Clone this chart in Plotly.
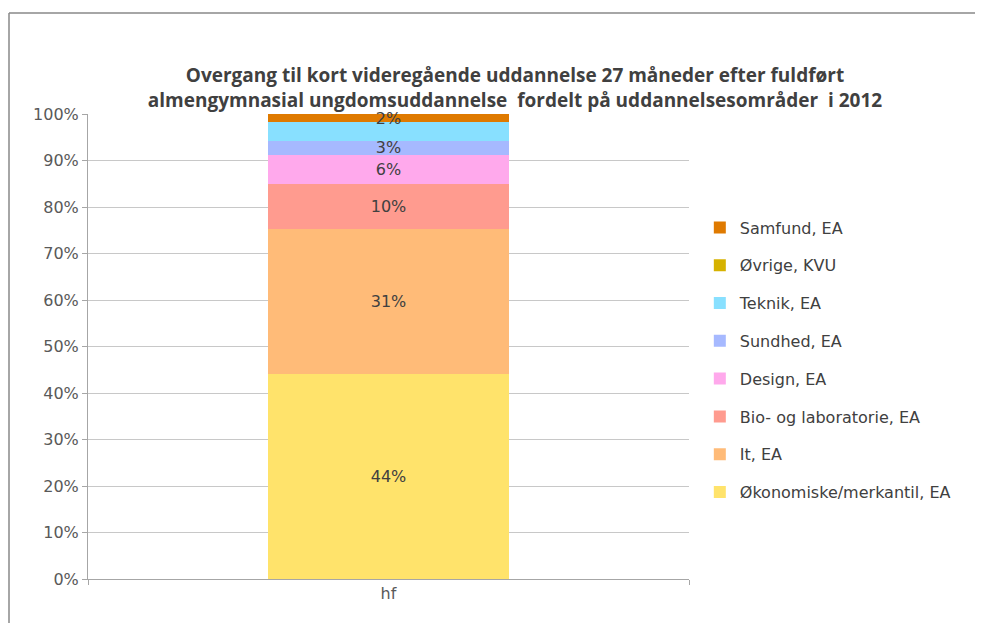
import plotly.graph_objects as go

categories = ["hf"]
series_names = ["Økonomiske/merkantil, EA", "It, EA", "Bio- og laboratorie, EA", "Design, EA",
                "Sundhed, EA", "Teknik, EA", "Øvrige, KVU", "Samfund, EA"]
series_values = [0.440, 0.312, 0.098, 0.061, 0.032, 0.039, 0.0, 0.018]
show_label = [True, True, True, True, True, False, False, True]
colors = ["#FFE36B", "#FFBB78", "#FF9B8F", "#FFA9EC", "#A6B9FF", "#88E0FF", "#D6B200", "#DF7A00"]
y_ticks = [i / 10 for i in range(11)]

title_text = ("Overgang til kort videregående uddannelse 27 måneder efter fuldført<br>"
              "almengymnasial ungdomsuddannelse\u00a0 fordelt på uddannelsesområder\u00a0 i 2012")

W, H = 975, 615  # page body has an 8px margin
fig = go.Figure()
n = len(series_names)
for i, (name, val, col, sl) in enumerate(zip(series_names, series_values, colors, show_label)):
    fig.add_trace(go.Bar(
        x=categories, y=[val], name=name,
        marker=dict(color=col, line=dict(width=0)),
        text=[f"{val:.0%}" if sl else ""],
        textposition="inside", insidetextanchor="middle", constraintext="none",
        textfont=dict(family="DejaVu Sans", size=16, color="#404040"),
        legendgroup=f"g{i}", legendrank=n - i, hoverinfo="skip", cliponaxis=False,
    ))

fig.update_layout(
    width=W, height=H,
    barmode="stack", bargap=0.6,
    paper_bgcolor="white", plot_bgcolor="white",
    margin=dict(l=80, r=W - 80 - 601, t=106, b=H - 106 - 465),
    title=dict(text=title_text, x=507 / W, xref="container", xanchor="center",
               y=1 - 74 / H, yref="container", yanchor="middle",
               font=dict(family="Open Sans", size=19, color="#404040", weight="bold")),
    showlegend=True,
    legend=dict(x=1.018, xanchor="left", y=0.471, yanchor="middle",
                traceorder="grouped", tracegroupgap=14,
                font=dict(family="DejaVu Sans", size=16, color="#404040"),
                bgcolor="rgba(0,0,0,0)"),
    font=dict(family="DejaVu Sans"),
)

fig.update_yaxes(range=[0, 1], tickvals=y_ticks, tickformat=".0%",
                 showgrid=True, gridcolor="#C8C8C8", gridwidth=1,
                 showline=True, linecolor="#A6A6A6", linewidth=1,
                 ticks="outside", ticklen=5, tickcolor="#A6A6A6",
                 tickfont=dict(family="DejaVu Sans", size=16, color="#595959"),
                 zeroline=False, fixedrange=True)
fig.update_xaxes(showline=True, linecolor="#A6A6A6", linewidth=1,
                 ticks="outside", ticklen=5, tickcolor="#A6A6A6", tickson="boundaries",
                 tickfont=dict(family="DejaVu Sans", size=16, color="#595959"),
                 showgrid=False, fixedrange=True)

# outer chart frame (only top and left edges are visible; it is cropped at right and bottom)
fx0 = (1 - 80) / 601
fy1 = 1 + (106 - 5) / 465
fig.add_shape(type="line", xref="paper", yref="paper", x0=fx0, x1=(W - 80) / 601, y0=fy1, y1=fy1,
              line=dict(color="#888888", width=1.5), layer="below")
fig.add_shape(type="line", xref="paper", yref="paper", x0=fx0, x1=fx0, y0=-(H - 106 - 465) / 465, y1=fy1,
              line=dict(color="#888888", width=1.5), layer="below")

fig.write_html("out.html")
